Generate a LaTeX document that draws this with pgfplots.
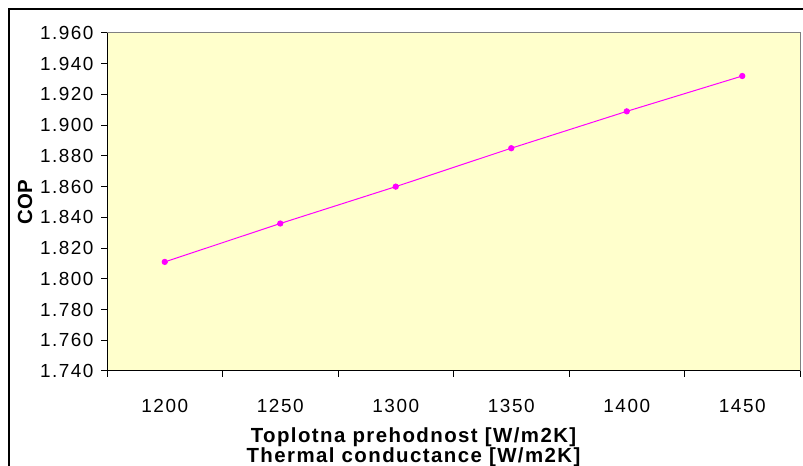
\documentclass[border=0pt]{standalone}
\usepackage{fontspec}
\setmainfont{Liberation Sans}
\usepackage{pgfplots}
\pgfplotsset{compat=1.18}
\definecolor{plotbg}{HTML}{FFFFCC}
\definecolor{ser}{HTML}{FF00FF}
\begin{document}
\begin{tikzpicture}[x=1bp,y=1bp]
\path[use as bounding box] (0,0) rectangle (803,466);
\draw[black, line width=1.2bp] (9,0) -- (9,457) -- (803,457);
\begin{axis}[
  at={(107bp,95bp)}, anchor=south west,
  width=693bp, height=338bp, scale only axis,
  xmin=-0.5, xmax=5.5, ymin=1.74, ymax=1.96,
  axis x line*=bottom, axis y line*=left,
  axis line style={black, line width=1bp},
  axis background/.style={fill=plotbg},
  tick align=outside,
  xtick={0,1,2,3,4,5},
  xticklabels={1200,1250,1300,1350,1400,1450},
  minor xtick={-0.5,0.5,1.5,2.5,3.5,4.5,5.5},
  major x tick style={draw=none},
  minor x tick style={black, line width=1bp},
  ytick={1.74,1.76,1.78,1.80,1.82,1.84,1.86,1.88,1.90,1.92,1.94,1.96},
  ytick style={black, line width=1bp},
  major tick length=6bp, minor tick length=6bp,
  /pgf/number format/assume math mode=true,
  yticklabel style={/pgf/number format/fixed, /pgf/number format/fixed zerofill, /pgf/number format/precision=3, font=\fontsize{19}{19}\selectfont\addfontfeature{LetterSpace=8}, xshift=-4bp},
  xticklabel style={font=\fontsize{19}{19}\selectfont\addfontfeature{LetterSpace=8}, yshift=-19bp},
  ylabel={COP},
  ylabel style={font=\bfseries\fontsize{20.5}{20.5}\selectfont, at={(axis description cs:-0.1183,0.5)}, anchor=center},
  xlabel={\addfontfeature{LetterSpace=7}Toplotna prehodnost [W/m2K]\\\addfontfeature{LetterSpace=7}Thermal conductance [W/m2K]},
  xlabel style={font=\bfseries\fontsize{20.5}{18.5}\selectfont, align=center, at={(axis description cs:0.5,0)}, anchor=north, xshift=-40bp, yshift=-53bp},
  clip=false,
]
\draw[gray, line width=1bp] (rel axis cs:0,1) -- (rel axis cs:1,1) -- (rel axis cs:1,0);
\addplot[ser, line width=1bp, mark=*, mark size=2.6bp, mark options={fill=ser, draw=ser}] coordinates {
  (0,1.811) (1,1.836) (2,1.860) (3,1.885) (4,1.909) (5,1.932)
};
\end{axis}
\end{tikzpicture}
\end{document}
